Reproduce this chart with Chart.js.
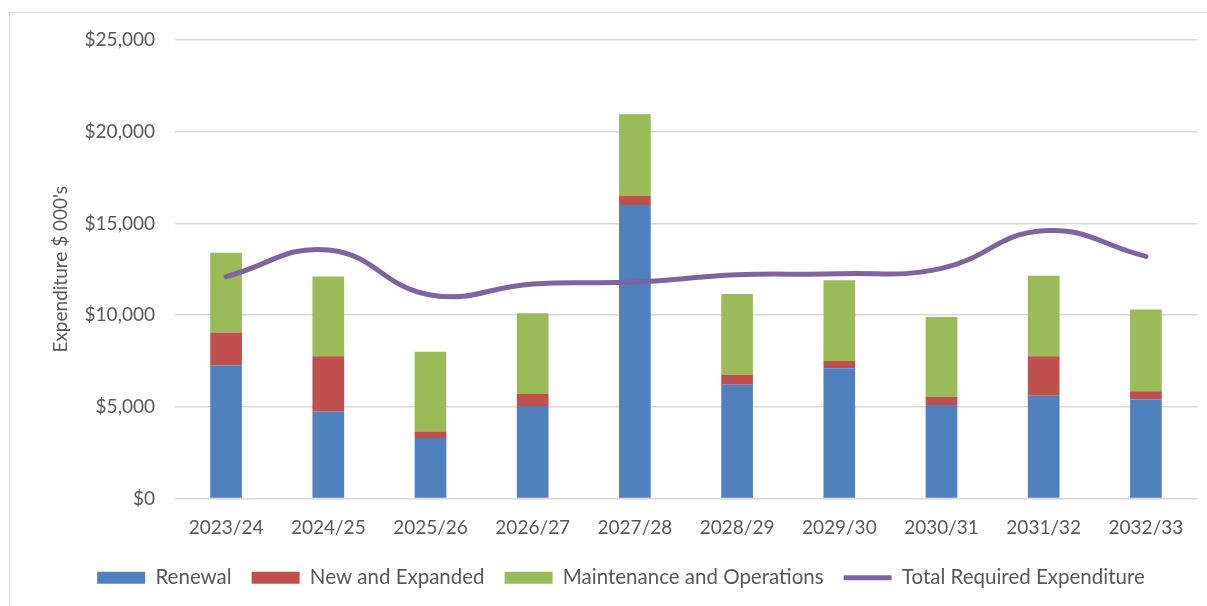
<!DOCTYPE html>
<html>
<head>
<meta charset="utf-8">
<script src="https://cdn.jsdelivr.net/npm/chart.js@4/dist/chart.umd.min.js"></script>
<style>
  html, body { margin: 0; padding: 0; background: #fff; overflow: hidden; }
  #wrap { position: relative; width: 1207px; height: 606px; }
  /* light frame round the chart, cut off at right and bottom */
  #frame { position: absolute; left: 9px; top: 12px; width: 1300px; height: 700px;
           border-left: 1.5px solid #d9d9d9; border-top: 1.5px solid #d9d9d9; }
  #chart { position: absolute; left: 0; top: 0; }
</style>
</head>
<body>
<div id="wrap">
  <div id="frame"></div>
  <canvas id="chart" width="1207" height="606"></canvas>
</div>
<script>
// data ($ 000's)
var years = ['2023/24', '2024/25', '2025/26', '2026/27', '2027/28', '2028/29', '2029/30', '2030/31', '2031/32', '2032/33'];
var renewal = [7250, 4750, 3300, 5050, 16000, 6200, 7100, 5100, 5600, 5400];
var newExpanded = [1800, 3000, 350, 650, 500, 550, 400, 450, 2150, 450];
var maintOps = [4350, 4350, 4350, 4400, 4450, 4400, 4400, 4350, 4400, 4450];
var totalRequired = [12100, 13550, 11100, 11700, 11800, 12200, 12250, 12550, 14600, 13200];
var yTicks = [0, 5000, 10000, 15000, 20000, 25000];

var fontFamily = 'Lato, "Open Sans", sans-serif';
var grey = '#595959';

function bar(label, data, color) {
    return {
        type: 'bar', label: label, data: data, backgroundColor: color,
        borderWidth: 0, stack: 'bars', pointStyle: 'rect',
        barPercentage: 0.31, categoryPercentage: 1
    };
}

var ctx = document.getElementById('chart').getContext('2d');
new Chart(ctx, {
    data: {
        labels: years,
        datasets: [
            bar('Renewal', renewal, '#4f81bd'),
            bar('New and Expanded', newExpanded, '#c0504d'),
            bar('Maintenance and Operations', maintOps, '#9bbb59'),
            {
                type: 'line', label: 'Total Required Expenditure', data: totalRequired,
                borderColor: '#8064a2', backgroundColor: '#8064a2', borderWidth: 5,
                borderCapStyle: 'round', pointRadius: 0, tension: 0.45,
                stack: 'line', order: -1, pointStyle: 'line', fill: false
            }
        ]
    },
    options: {
        responsive: false,
        animation: false,
        devicePixelRatio: 1,
        layout: { padding: { left: 45, right: 10, top: 40, bottom: 8 } },
        plugins: {
            tooltip: { enabled: false },
            legend: {
                position: 'bottom',
                labels: {
                    // keep dataset order, the line is only drawn on top
                    sort: function (a, b) { return a.datasetIndex - b.datasetIndex; },
                    usePointStyle: true, pointStyleWidth: 48, boxHeight: 12,
                    padding: 20, color: grey,
                    font: { family: fontFamily, size: 20.5 }
                }
            }
        },
        scales: {
            x: {
                stacked: true,
                grid: { display: false },
                border: { display: false },
                ticks: { color: grey, padding: 10, maxRotation: 0, font: { family: fontFamily, size: 19 } },
                afterFit: function (scale) { scale.height = 49; }
            },
            y: {
                stacked: true,
                min: yTicks[0], max: yTicks[yTicks.length - 1],
                afterBuildTicks: function (scale) {
                    scale.ticks = yTicks.map(function (v) { return { value: v }; });
                },
                grid: { color: '#d9d9d9', lineWidth: 1.5, drawTicks: false },
                border: { display: false },
                ticks: {
                    color: grey, padding: 20,
                    font: { family: fontFamily, size: 19 },
                    callback: function (v) { return '$' + v.toLocaleString('en-US'); }
                },
                title: {
                    display: true, text: "Expenditure $ 000's", color: grey,
                    font: { family: fontFamily, size: 19 }
                },
                afterFit: function (scale) { scale.width = 130; }
            }
        }
    }
});
</script>
</body>
</html>
